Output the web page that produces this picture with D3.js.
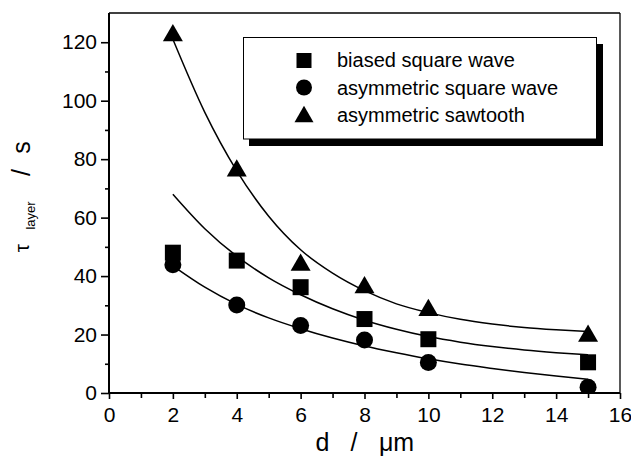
<!DOCTYPE html>
<html>
<head>
<meta charset="utf-8">
<script src="https://cdn.jsdelivr.net/npm/d3@7/dist/d3.min.js"></script>
<style>
  body { margin: 0; background: #fff; }
  svg { display: block; }
  text { font-family: "Liberation Sans", Arial, Helvetica, sans-serif; fill: #000; }
</style>
</head>
<body>
<svg id="chart" width="631" height="461"></svg>
<script>
// Layer thickness d (µm) at which each waveform was measured
const thickness = [2, 4, 6, 8, 10, 15];

// Measured layer relaxation times τ_layer (s)
const biasedSquare = [48, 45.3, 36.2, 25.3, 18.4, 10.5];
const asymSquare   = [43.9, 30.1, 23.1, 18.1, 10.4, 2.0];
const asymSawtooth = [123.3, 77, 44.8, 37.1, 29.3, 20.5];

// Smooth decay curves through each data set
const fitD          = [2, 3, 4, 5, 6, 7, 8, 9, 10, 11, 12, 13, 14, 15];
const fitBiased     = [68, 56.2, 46.8, 39.4, 33.6, 28.8, 24.9, 21.8, 19.3, 17.4, 15.9, 14.7, 13.8, 13.1];
const fitAsymSquare = [43.5, 36.2, 30.3, 25.7, 22, 18.8, 16.1, 13.8, 11.7, 9.9, 8.4, 7.0, 5.8, 4.7];
const fitSawtooth   = [121, 96, 76, 60.5, 49, 41, 35, 30.5, 27.5, 25.2, 23.6, 22.4, 21.6, 21];

// Axis ticks
const xTicks = [0, 2, 4, 6, 8, 10, 12, 14, 16];
const xMinor = [1, 3, 5, 7, 9, 11, 13, 15];
const yTicks = [0, 20, 40, 60, 80, 100, 120];
const yMinor = [10, 30, 50, 70, 90, 110];

const legendLabels = ["biased square wave", "asymmetric square wave", "asymmetric sawtooth"];

const svg = d3.select("#chart");
const plotL = 109, plotR = 620, plotT = 13, plotB = 393;

const x = d3.scaleLinear().domain([0, 16]).range([plotL, plotR]);
const y = d3.scaleLinear().domain([0, 130]).range([plotB, plotT]);

// marker shapes
const shapes = {
  square: s => `M${-s/2},${-s/2}h${s}v${s}h${-s}Z`,
  circle: s => `M${-s/2},0a${s/2},${s/2} 0 1,0 ${s},0a${s/2},${s/2} 0 1,0 ${-s},0Z`,
  triangle: s => `M0,${-s*0.43}L${s*0.5},${s*0.43}L${-s*0.5},${s*0.43}Z`
};

// clip for data marks
svg.append("defs").append("clipPath").attr("id", "plotClip")
  .append("rect").attr("x", plotL).attr("y", plotT)
  .attr("width", plotR - plotL).attr("height", plotB - plotT);

// Axes
const xAxis = svg.append("g").attr("transform", `translate(0,${plotB})`)
  .call(d3.axisBottom(x).tickValues(xTicks).tickSize(6).tickPadding(8).tickFormat(d3.format("d")));
svg.append("g").attr("transform", `translate(0,${plotB})`)
  .call(d3.axisBottom(x).tickValues(xMinor).tickSize(5).tickFormat(""));
const yAxis = svg.append("g").attr("transform", `translate(${plotL},0)`)
  .call(d3.axisLeft(y).tickValues(yTicks).tickSize(8).tickPadding(4).tickFormat(d3.format("d")));
svg.append("g").attr("transform", `translate(${plotL},0)`)
  .call(d3.axisLeft(y).tickValues(yMinor).tickSize(4).tickFormat(""));

svg.selectAll(".domain").remove();
svg.selectAll(".tick line").attr("stroke", "#000").attr("stroke-width", 1.6);
xAxis.selectAll(".tick text").attr("font-size", 21).attr("fill", "#000");
yAxis.selectAll(".tick text").attr("font-size", 21).attr("fill", "#000");

// Frame
svg.append("line").attr("x1", plotL).attr("x2", plotR).attr("y1", plotT).attr("y2", plotT)
  .attr("stroke", "#000").attr("stroke-width", 1.3);
svg.append("line").attr("x1", plotR).attr("x2", plotR).attr("y1", plotT).attr("y2", plotB)
  .attr("stroke", "#000").attr("stroke-width", 1.3);
svg.append("line").attr("x1", plotL).attr("x2", plotL).attr("y1", plotT).attr("y2", plotB + 1)
  .attr("stroke", "#000").attr("stroke-width", 2);
svg.append("line").attr("x1", plotL - 1).attr("x2", plotR).attr("y1", plotB).attr("y2", plotB)
  .attr("stroke", "#000").attr("stroke-width", 2);

// Decay curves
const line = d3.line().x((d, i) => x(fitD[i])).y(d => y(d)).curve(d3.curveMonotoneX);
const curves = svg.append("g").attr("clip-path", "url(#plotClip)");
[fitBiased, fitAsymSquare, fitSawtooth].forEach(c => {
  curves.append("path").attr("d", line(c))
    .attr("fill", "none").attr("stroke", "#000").attr("stroke-width", 1.5);
});

// Data markers
const series = [
  { values: biasedSquare, shape: "square", size: 16 },
  { values: asymSquare, shape: "circle", size: 17 },
  { values: asymSawtooth, shape: "triangle", size: 20 }
];
const marks = svg.append("g").attr("clip-path", "url(#plotClip)");
series.forEach(s => {
  marks.selectAll(null).data(s.values).enter().append("path")
    .attr("transform", (d, i) => `translate(${x(thickness[i])},${y(d)})`)
    .attr("d", shapes[s.shape](s.size))
    .attr("fill", "#000");
});

// Legend with drop shadow
const lg = svg.append("g");
lg.append("rect").attr("x", 249).attr("y", 44).attr("width", 354).attr("height", 102).attr("fill", "#000");
lg.append("rect").attr("x", 243.5).attr("y", 37.5).attr("width", 353).attr("height", 101.5)
  .attr("fill", "#fff").attr("stroke", "#000").attr("stroke-width", 1);
const legendMarkY = [60.5, 87.5, 114];
const legendTextY = [67, 94.5, 122];
const legendSizes = [15, 16, 19];
series.forEach((s, i) => {
  lg.append("path").attr("transform", `translate(304,${legendMarkY[i]})`)
    .attr("d", shapes[s.shape](legendSizes[i])).attr("fill", "#000");
  lg.append("text").attr("x", 337).attr("y", legendTextY[i])
    .attr("font-size", 20).text(legendLabels[i]);
});

// X axis title
const xt = svg.append("g");
xt.append("text").attr("x", 322.5).attr("y", 451).attr("text-anchor", "middle").attr("font-size", 25).text("d");
xt.append("text").attr("x", 354).attr("y", 451).attr("text-anchor", "middle").attr("font-size", 25).text("/");
xt.append("text").attr("x", 396.5).attr("y", 451).attr("text-anchor", "middle").attr("font-size", 25).text("\u03bcm");

// Y axis title (rotated)
const yt = svg.append("g");
const yParts = [
  { t: "\u03c4", cy: 248, bx: 29, fs: 21 },
  { t: "layer", cy: 215.5, bx: 35, fs: 13 },
  { t: "/", cy: 172.5, bx: 30, fs: 25 },
  { t: "s", cy: 147.5, bx: 30, fs: 25 }
];
yParts.forEach(p => {
  yt.append("text").attr("transform", `translate(${p.bx},${p.cy}) rotate(-90)`)
    .attr("text-anchor", "middle").attr("font-size", p.fs).text(p.t);
});
</script>
</body>
</html>
